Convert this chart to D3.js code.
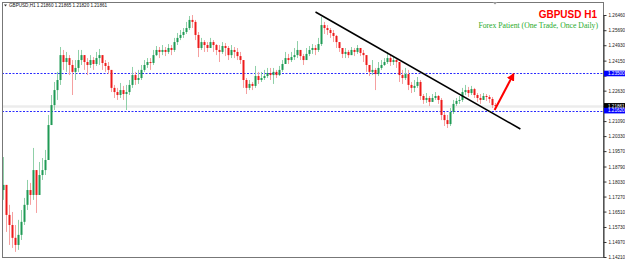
<html>
<head>
    <style>
        body { margin: 0; background: #ffffff; }
        .axis text { font-family: "Liberation Sans", Arial, sans-serif; font-size: 4.6px; fill: #222; }
        .axis line, .axis path { stroke: #333; }
    </style>
</head>
<body>
    <svg id="container" width="625" height="259"></svg>
</body>
<script src="https://cdn.jsdelivr.net/npm/d3@7"></script>
<script>
    // GBPUSD H1 candles (open = previous close)
    let firstOpen = 1.1760
    let closes = [1.1786, 1.1634, 1.1583, 1.1518, 1.1482, 1.1533, 1.1599, 1.1685, 1.1760, 1.1735,
        1.1861, 1.1735, 1.1836, 1.1861, 1.1912, 1.2089, 1.2190, 1.2266, 1.2317, 1.2443,
        1.2408, 1.2428, 1.2393, 1.2358, 1.2378, 1.2418, 1.2443, 1.2408, 1.2393, 1.2418,
        1.2398, 1.2428, 1.2443, 1.2403, 1.2388, 1.2368, 1.2277, 1.2256, 1.2241, 1.2266,
        1.2246, 1.2256, 1.2292, 1.2342, 1.2317, 1.2327, 1.2368, 1.2393, 1.2408, 1.2403,
        1.2443, 1.2469, 1.2459, 1.2469, 1.2459, 1.2479, 1.2469, 1.2509, 1.2530, 1.2545,
        1.2560, 1.2580, 1.2621, 1.2611, 1.2545, 1.2479, 1.2509, 1.2494, 1.2479, 1.2509,
        1.2494, 1.2469, 1.2459, 1.2489, 1.2479, 1.2443, 1.2469, 1.2459, 1.2438, 1.2418,
        1.2317, 1.2277, 1.2297, 1.2287, 1.2337, 1.2317, 1.2327, 1.2337, 1.2352, 1.2342,
        1.2358, 1.2342, 1.2368, 1.2398, 1.2428, 1.2418, 1.2433, 1.2443, 1.2469, 1.2438,
        1.2418, 1.2449, 1.2469, 1.2479, 1.2469, 1.2499, 1.2595, 1.2580, 1.2570, 1.2555,
        1.2540, 1.2509, 1.2479, 1.2449, 1.2459, 1.2443, 1.2469, 1.2459, 1.2479, 1.2454,
        1.2443, 1.2393, 1.2358, 1.2368, 1.2347, 1.2378, 1.2393, 1.2408, 1.2428, 1.2408,
        1.2418, 1.2408, 1.2342, 1.2327, 1.2347, 1.2292, 1.2277, 1.2287, 1.2307, 1.2236,
        1.2216, 1.2226, 1.2206, 1.2226, 1.2236, 1.2216, 1.2140, 1.2114, 1.2094, 1.2155,
        1.2196, 1.2211, 1.2216, 1.2256, 1.2266, 1.2251, 1.2271, 1.2241, 1.2226, 1.2216,
        1.2236, 1.2231, 1.2221, 1.2190, 1.2186]
    let highs = [1.1927, 1.1786, 1.1685, 1.1649, 1.1583, 1.1609, 1.1659, 1.1720, 1.1811, 1.1796,
        1.1973, 1.1861, 1.1902, 1.1922, 1.1963, 1.2140, 1.2241, 1.2307, 1.2358, 1.2484,
        1.2469, 1.2459, 1.2443, 1.2418, 1.2418, 1.2469, 1.2469, 1.2443, 1.2428, 1.2443,
        1.2433, 1.2459, 1.2474, 1.2443, 1.2418, 1.2408, 1.2368, 1.2292, 1.2277, 1.2302,
        1.2287, 1.2292, 1.2317, 1.2383, 1.2358, 1.2368, 1.2393, 1.2418, 1.2428, 1.2428,
        1.2469, 1.2489, 1.2484, 1.2494, 1.2484, 1.2499, 1.2494, 1.2530, 1.2555, 1.2570,
        1.2580, 1.2611, 1.2641, 1.2646, 1.2621, 1.2560, 1.2530, 1.2519, 1.2509, 1.2530,
        1.2519, 1.2499, 1.2494, 1.2509, 1.2504, 1.2489, 1.2494, 1.2484, 1.2479, 1.2459,
        1.2418, 1.2327, 1.2317, 1.2307, 1.2388, 1.2358, 1.2358, 1.2368, 1.2378, 1.2378,
        1.2378, 1.2368, 1.2388, 1.2418, 1.2459, 1.2449, 1.2459, 1.2479, 1.2514, 1.2469,
        1.2449, 1.2479, 1.2489, 1.2499, 1.2494, 1.2530, 1.2636, 1.2611, 1.2595, 1.2580,
        1.2570, 1.2545, 1.2509, 1.2479, 1.2479, 1.2469, 1.2484, 1.2479, 1.2494, 1.2479,
        1.2469, 1.2443, 1.2393, 1.2418, 1.2378, 1.2408, 1.2418, 1.2428, 1.2459, 1.2443,
        1.2438, 1.2428, 1.2408, 1.2368, 1.2378, 1.2368, 1.2307, 1.2317, 1.2332, 1.2317,
        1.2246, 1.2251, 1.2236, 1.2246, 1.2256, 1.2241, 1.2226, 1.2155, 1.2140, 1.2175,
        1.2216, 1.2226, 1.2236, 1.2277, 1.2292, 1.2282, 1.2287, 1.2277, 1.2251, 1.2246,
        1.2251, 1.2246, 1.2241, 1.2231, 1.2201]
    let lows = [1.1710, 1.1548, 1.1482, 1.1467, 1.1447, 1.1457, 1.1507, 1.1583, 1.1659, 1.1685,
        1.1710, 1.1644, 1.1735, 1.1811, 1.1836, 1.1912, 1.2089, 1.2165, 1.2216, 1.2292,
        1.2368, 1.2358, 1.2342, 1.2241, 1.2317, 1.2358, 1.2393, 1.2368, 1.2342, 1.2378,
        1.2368, 1.2388, 1.2393, 1.2368, 1.2358, 1.2347, 1.2256, 1.2226, 1.2216, 1.2226,
        1.2216, 1.2165, 1.2241, 1.2277, 1.2292, 1.2297, 1.2317, 1.2358, 1.2378, 1.2368,
        1.2393, 1.2438, 1.2428, 1.2443, 1.2438, 1.2449, 1.2443, 1.2459, 1.2494, 1.2519,
        1.2530, 1.2550, 1.2570, 1.2580, 1.2519, 1.2433, 1.2469, 1.2459, 1.2459, 1.2479,
        1.2459, 1.2443, 1.2408, 1.2449, 1.2438, 1.2418, 1.2428, 1.2428, 1.2418, 1.2398,
        1.2277, 1.2246, 1.2266, 1.2266, 1.2277, 1.2297, 1.2307, 1.2317, 1.2327, 1.2317,
        1.2297, 1.2327, 1.2337, 1.2358, 1.2398, 1.2398, 1.2408, 1.2418, 1.2428, 1.2418,
        1.2393, 1.2428, 1.2438, 1.2449, 1.2443, 1.2459, 1.2489, 1.2550, 1.2545, 1.2530,
        1.2509, 1.2479, 1.2459, 1.2428, 1.2428, 1.2428, 1.2443, 1.2438, 1.2449, 1.2438,
        1.2408, 1.2358, 1.2337, 1.2342, 1.2266, 1.2337, 1.2368, 1.2388, 1.2398, 1.2388,
        1.2393, 1.2378, 1.2307, 1.2297, 1.2317, 1.2266, 1.2251, 1.2256, 1.2277, 1.2216,
        1.2196, 1.2201, 1.2185, 1.2206, 1.2216, 1.2196, 1.2114, 1.2084, 1.2074, 1.2084,
        1.2145, 1.2185, 1.2196, 1.2206, 1.2241, 1.2231, 1.2241, 1.2226, 1.2206, 1.2196,
        1.2216, 1.2211, 1.2201, 1.2175, 1.2165]

    // price axis labels and levels
    let priceTicks = [1.2646, 1.2569, 1.2493, 1.2415, 1.2339, 1.2263, 1.2186, 1.2109, 1.2033,
        1.1957, 1.1879, 1.1803, 1.1727, 1.1651, 1.1573, 1.1497, 1.1421]
    let bluelevels = [1.2350, 1.2162]
    let bid = 1.21861
    let header = ["GBPUSD,H1", "1.21860", "1.21865", "1.21820", "1.21861"]
    // drawn annotations (bar index, price)
    let trendline = [[104, 1.2661], [172.3, 1.2069]]
    let arrow = [[163.7, 1.2165], [170, 1.2347]]

    let svg = d3.select("#container")
    let plotLeft = 2, plotRight = 603, plotTop = 2, plotBottom = 257

    let x = d3.scaleLinear().domain([0, 164]).range([3.5, 495.5])
    let y = d3.scaleLinear().domain([1.1421, 1.2646]).range([257, 15])
    let crisp = v => Math.round(v) + 0.5

    let candles = closes.map((c, i) => ({
        i: i,
        o: i == 0 ? firstOpen : closes[i - 1],
        c: c, h: highs[i], l: lows[i]
    }))

    let chart = svg.append("g")

    // bid line
    chart.append("line")
        .attr("x1", plotLeft).attr("x2", plotRight)
        .attr("y1", crisp(y(bid))).attr("y2", crisp(y(bid)))
        .attr("stroke", "#ececec").attr("stroke-width", 2.5)

    // blue levels
    chart.selectAll(".level").data(bluelevels).enter().append("line")
        .attr("class", "level")
        .attr("x1", plotLeft).attr("x2", plotRight)
        .attr("y1", d => crisp(y(d))).attr("y2", d => crisp(y(d)))
        .attr("stroke", "#2a2aff").attr("stroke-width", 1)
        .attr("stroke-dasharray", "2,1.5")

    let bull = "#1f9a55", bear = "#ee1a1a"

    chart.selectAll(".wick").data(candles).enter().append("line")
        .attr("class", "wick")
        .attr("x1", d => x(d.i)).attr("x2", d => x(d.i))
        .attr("y1", d => y(d.h)).attr("y2", d => y(d.l))
        .attr("stroke", d => d.c >= d.o ? "#8fd0a8" : "#f5a0a0")
        .attr("stroke-width", 1)

    chart.selectAll(".body").data(candles).enter().append("rect")
        .attr("class", "body")
        .attr("x", d => x(d.i) - 1)
        .attr("width", 2)
        .attr("y", d => y(Math.max(d.o, d.c)))
        .attr("height", d => Math.max(1, Math.abs(y(d.o) - y(d.c))))
        .attr("fill", d => d.c >= d.o ? bull : bear)

    // trend line
    chart.append("line")
        .attr("x1", x(trendline[0][0])).attr("y1", y(trendline[0][1]))
        .attr("x2", x(trendline[1][0])).attr("y2", y(trendline[1][1]))
        .attr("stroke", "#000").attr("stroke-width", 1.6)

    // red arrow
    svg.append("defs").append("marker")
        .attr("id", "head").attr("viewBox", "0 0 10 10")
        .attr("refX", 8).attr("refY", 5)
        .attr("markerWidth", 4).attr("markerHeight", 4)
        .attr("orient", "auto")
        .append("path").attr("d", "M0,0L10,5L0,10z").attr("fill", "#ff0000")

    chart.append("line")
        .attr("x1", x(arrow[0][0])).attr("y1", y(arrow[0][1]))
        .attr("x2", x(arrow[1][0])).attr("y2", y(arrow[1][1]))
        .attr("stroke", "#ff0000").attr("stroke-width", 2)
        .attr("marker-end", "url(#head)")

    // frame
    svg.append("rect")
        .attr("x", plotLeft + 0.5).attr("y", plotTop + 0.5)
        .attr("width", plotRight - plotLeft).attr("height", plotBottom - plotTop)
        .attr("fill", "none").attr("stroke", "#777").attr("stroke-width", 1)

    // price labels (drawn over the axis)
    let tags = [
        { v: bluelevels[0], bg: "#0000ff" },
        { v: bid, bg: "#000000" },
        { v: bluelevels[1], bg: "#0000ff" }
    ]

    // price axis; tick labels covered by a price tag are not shown
    let axis = svg.append("g")
        .attr("class", "axis")
        .attr("transform", "translate(" + (plotRight + 0.5) + ",0)")
        .call(d3.axisRight(y).tickValues(priceTicks).tickSize(3).tickSizeOuter(0)
            .tickPadding(2).tickFormat(d3.format(".5f")))
    axis.selectAll(".tick text")
        .attr("display", d => tags.some(t => Math.abs(y(t.v) - y(d)) < 5) ? "none" : null)

    let tag = svg.selectAll(".tag").data(tags).enter().append("g")
        .attr("transform", d => "translate(" + (plotRight + 1) + "," + y(d.v) + ")")
    tag.append("rect").attr("x", 0).attr("y", -2.8).attr("width", 21).attr("height", 5.6)
        .attr("fill", d => d.bg)
    tag.append("text").attr("x", 4).attr("y", 1.7)
        .attr("font-family", "Liberation Sans, Arial, sans-serif")
        .attr("font-size", 4.6).attr("fill", "#fff")
        .text(d => d3.format(".5f")(d.v))

    // header
    svg.append("path").attr("d", "M4,4.5L7,4.5L5.5,6.5z").attr("fill", "#333")
    svg.append("text").attr("x", 9).attr("y", 7.3)
        .attr("font-family", "Liberation Sans, Arial, sans-serif")
        .attr("font-size", 4.6).attr("fill", "#111")
        .text(header.join("  "))

    // shift marker
    svg.append("path").attr("d", "M492.5,2L497.5,2L495,4.5z").attr("fill", "#999")

    // title texts
    svg.append("text").attr("x", 597).attr("y", 17.5)
        .attr("text-anchor", "end")
        .attr("font-family", "Liberation Sans, Arial, sans-serif")
        .attr("font-weight", "bold").attr("font-size", 10).attr("fill", "#ff0000")
        .text("GBPUSD H1")
    svg.append("text").attr("x", 598).attr("y", 28)
        .attr("text-anchor", "end")
        .attr("font-family", "Liberation Serif, Times New Roman, serif")
        .attr("font-size", 7.7).attr("fill", "#1faa2a")
        .text("Forex Patient (One Trade, Once Daily)")
</script>
</html>
